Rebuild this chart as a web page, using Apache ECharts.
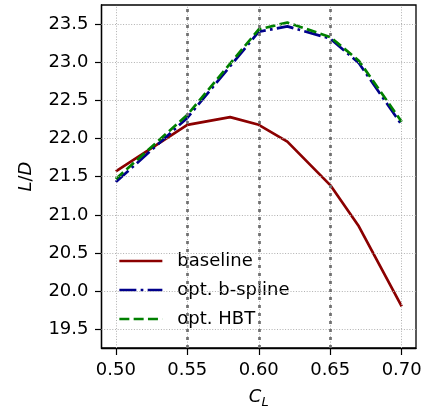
<!DOCTYPE html>
<html>
<head>
<meta charset="utf-8">
<script src="https://cdn.jsdelivr.net/npm/echarts@6/dist/echarts.min.js"></script>
<style>html,body{margin:0;padding:0;background:#fff;}#c{width:426px;height:411px;}</style>
</head>
<body>
<div id="c"></div>
<script>
var xTicks = [0.50, 0.55, 0.60, 0.65, 0.70];
var yTicks = [19.5, 20.0, 20.5, 21.0, 21.5, 22.0, 22.5, 23.0, 23.5];
var markedCL = [0.55, 0.60, 0.65];
var baselineCL = [0.50, 0.55, 0.58, 0.60, 0.62, 0.65, 0.67, 0.70];
var baseline = [21.57, 22.18, 22.28, 22.18, 21.96, 21.39, 20.85, 19.80];
var optCL = [0.50, 0.55, 0.60, 0.62, 0.65, 0.67, 0.70];
var bspline = [21.43, 22.27, 23.40, 23.47, 23.31, 22.99, 22.18];
var hbt = [21.47, 22.31, 23.43, 23.52, 23.33, 23.02, 22.22];
var names = ['baseline', 'opt. b-spline', 'opt. HBT'];

function pairs(xs, ys) { return xs.map(function (x, i) { return [x, ys[i]]; }); }
var FONT = 'DejaVu Sans';
var chart = echarts.init(document.getElementById('c'), null, {renderer: 'canvas'});
var gridLines = xTicks.map(function (v) { return {xAxis: v}; })
  .concat(yTicks.map(function (v) { return {yAxis: v}; }));
chart.setOption({
  animation: false,
  backgroundColor: '#fff',
  grid: {left: 101.5, right: 10, top: 5, bottom: 63, show: true, borderColor: '#000', borderWidth: 1.3,
    containLabel: false, outerBoundsMode: 'none'},
  xAxis: {
    type: 'value', min: 0.49, max: 0.71,
    name: '{i|C}{s|L}', nameLocation: 'middle', nameGap: 38,
    nameTextStyle: {rich: {
      i: {fontFamily: FONT, fontSize: 18, fontStyle: 'italic', color: '#000'},
      s: {fontFamily: FONT, fontSize: 13, fontStyle: 'italic', color: '#000', padding: [10, 0, 0, 0]}
    }},
    axisLine: {show: true, onZero: false, lineStyle: {color: '#000', width: 1.3}},
    axisTick: {show: true, length: 7, customValues: xTicks, lineStyle: {color: '#000', width: 1.2}},
    axisLabel: {customValues: xTicks, margin: 13, fontFamily: FONT, fontSize: 18, color: '#000',
      formatter: function (v) { return v.toFixed(2); }},
    splitLine: {show: false}
  },
  yAxis: {
    type: 'value', min: 19.255, max: 23.75,
    name: '{i|L}{n|/}{i|D}', nameLocation: 'middle', nameGap: 66, nameRotate: 90,
    nameTextStyle: {rich: {
      i: {fontFamily: FONT, fontSize: 18, fontStyle: 'italic', color: '#000'},
      n: {fontFamily: FONT, fontSize: 18, color: '#000'}
    }},
    axisLine: {show: true, onZero: false, lineStyle: {color: '#000', width: 1.3}},
    axisTick: {show: true, length: 6.5, customValues: yTicks, lineStyle: {color: '#000', width: 1.2}},
    axisLabel: {customValues: yTicks, margin: 13, fontFamily: FONT, fontSize: 18, color: '#000',
      formatter: function (v) { return v.toFixed(1); }},
    splitLine: {show: false}
  },
  legend: {
    data: names, left: 108, top: 236, orient: 'vertical',
    padding: [16, 12, 14, 10], itemGap: 11, itemWidth: 43, itemHeight: 14,
    backgroundColor: '#fff', borderRadius: 3,
    itemStyle: {color: 'rgba(0,0,0,0)', borderColor: 'rgba(0,0,0,0)', borderWidth: 0, opacity: 0},
    lineStyle: {width: 2.7},
    textStyle: {fontFamily: FONT, fontSize: 18, color: '#000', lineHeight: 18, padding: [0, 0, 0, 10]}
  },
  series: [
    {type: 'line', data: [], z: 1, silent: true,
      markLine: {silent: true, symbol: 'none', label: {show: false}, animation: false,
        lineStyle: {color: '#b0b0b0', width: 1, type: [1, 1.7]}, data: gridLines}},
    {type: 'line', data: [], z: 1, silent: true,
      markLine: {silent: true, symbol: 'none', label: {show: false}, animation: false,
        lineStyle: {color: '#707070', width: 2.7, type: [3, 5]},
        data: markedCL.map(function (v) { return {xAxis: v}; })}},
    {name: names[0], type: 'line', data: pairs(baselineCL, baseline), symbol: 'none', z: 3,
      lineStyle: {color: '#8b0000', width: 2.7}, itemStyle: {color: '#8b0000'}},
    {name: names[1], type: 'line', data: pairs(optCL, bspline), symbol: 'none', z: 3,
      lineStyle: {color: '#00008b', width: 2.7, type: [17, 4.3, 2.7, 4.3]}, itemStyle: {color: '#00008b'}},
    {name: names[2], type: 'line', data: pairs(optCL, hbt), symbol: 'none', z: 4,
      lineStyle: {color: '#008000', width: 2.7, type: [10, 4.3]}, itemStyle: {color: '#008000'}}
  ]
});
</script>
</body>
</html>
